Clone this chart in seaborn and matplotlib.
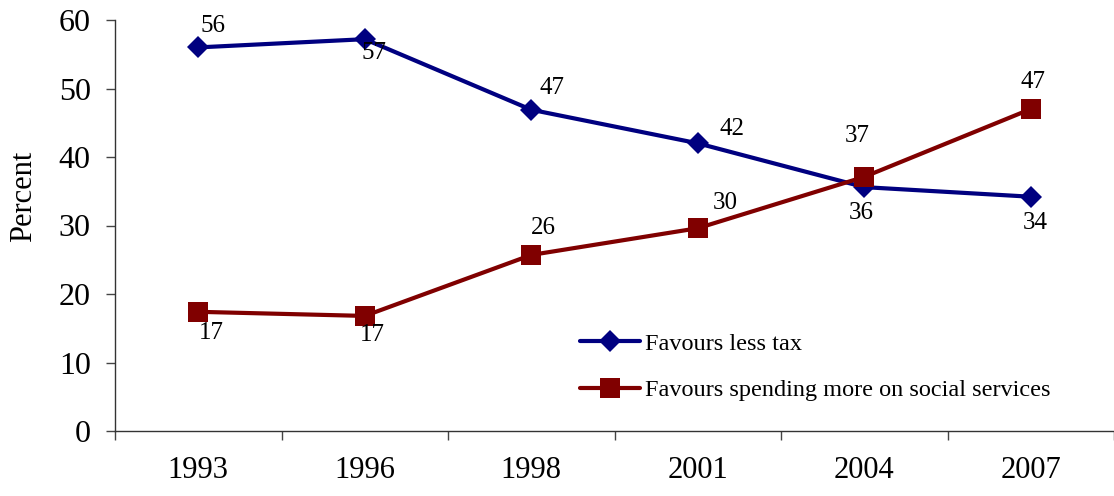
import matplotlib
matplotlib.use("Agg")
import matplotlib.pyplot as plt
import pandas as pd
import seaborn as sns

# data
years = ['1993', '1996', '1998', '2001', '2004', '2007']
less_tax = [56.0, 57.2, 46.9, 42.0, 35.6, 34.2]
more_social = [17.4, 16.8, 25.7, 29.6, 37.1, 47.0]
series_names = ['Favours less tax', 'Favours spending more on social services']

# label offsets (pixels) from each point
less_tax_offsets = [(15, 21), (9, -14), (21, 22), (34, 14), (-3, -26), (4, -26)]
more_social_offsets = [(13, -21), (8, -19), (12, 27), (27, 25), (-7, 41), (2, 27)]

sns.set_style('ticks')
plt.rcParams['font.family'] = ['Liberation Serif', 'DejaVu Serif']
plt.rcParams['text.color'] = 'black'
plt.rcParams['xtick.color'] = 'black'
plt.rcParams['ytick.color'] = 'black'
plt.rcParams['axes.labelcolor'] = 'black'

df = pd.DataFrame({'year': years * 2,
                   'value': less_tax + more_social,
                   'series': [series_names[0]] * 6 + [series_names[1]] * 6})

fig = plt.figure(figsize=(11.14, 4.96), dpi=100)
ax = fig.add_axes([115 / 1114, 65 / 496, 1 - 115 / 1114, 411 / 496])

colors = ['#000080', '#800000']
markers = ['D', 's']
sizes = [11.5, 15]
for name, col, mk, ms in zip(series_names, colors, markers, sizes):
    sub = df[df['series'] == name]
    sns.lineplot(data=sub, x='year', y='value', ax=ax, color=col, linewidth=3,
                 marker=mk, markersize=ms, markeredgewidth=0, label=name, sort=False)

for vals, offs in [(less_tax, less_tax_offsets), (more_social, more_social_offsets)]:
    for i, (v, o) in enumerate(zip(vals, offs)):
        ax.annotate(f'{round(v)}', (i, v), xytext=o, textcoords='offset pixels',
                    ha='center', va='center', fontsize=18, color='black')

ax.set_ylim(0, 60)
ax.set_xlim(-0.5, 5.5)
ax.set_yticks(range(0, 61, 10))
ax.set_xticks(range(6))
ax.set_xticklabels(years)
ax.set_xticks([i - 0.5 for i in range(7)], minor=True)
ax.tick_params(axis='x', which='major', length=0, labelsize=22, pad=18)
ax.tick_params(axis='x', which='minor', length=6.5, width=1, color='#444444')
ax.tick_params(axis='y', length=6.5, width=1, color='#444444', labelsize=23, pad=11)
ax.set_xlabel('')
ax.set_ylabel('Percent', fontsize=22)
ax.yaxis.set_label_coords(-0.077, 0.572)
sns.despine(ax=ax)
for s in ['left', 'bottom']:
    ax.spines[s].set_color('#333333')
    ax.spines[s].set_linewidth(1)

ax.legend(loc='center left', bbox_to_anchor=(0.465, 0.156), frameon=False,
          fontsize=17.5, borderpad=0, borderaxespad=0, handlelength=2.5,
          handletextpad=0.2, labelspacing=1.0)

fig.savefig('out.png', dpi=100)
